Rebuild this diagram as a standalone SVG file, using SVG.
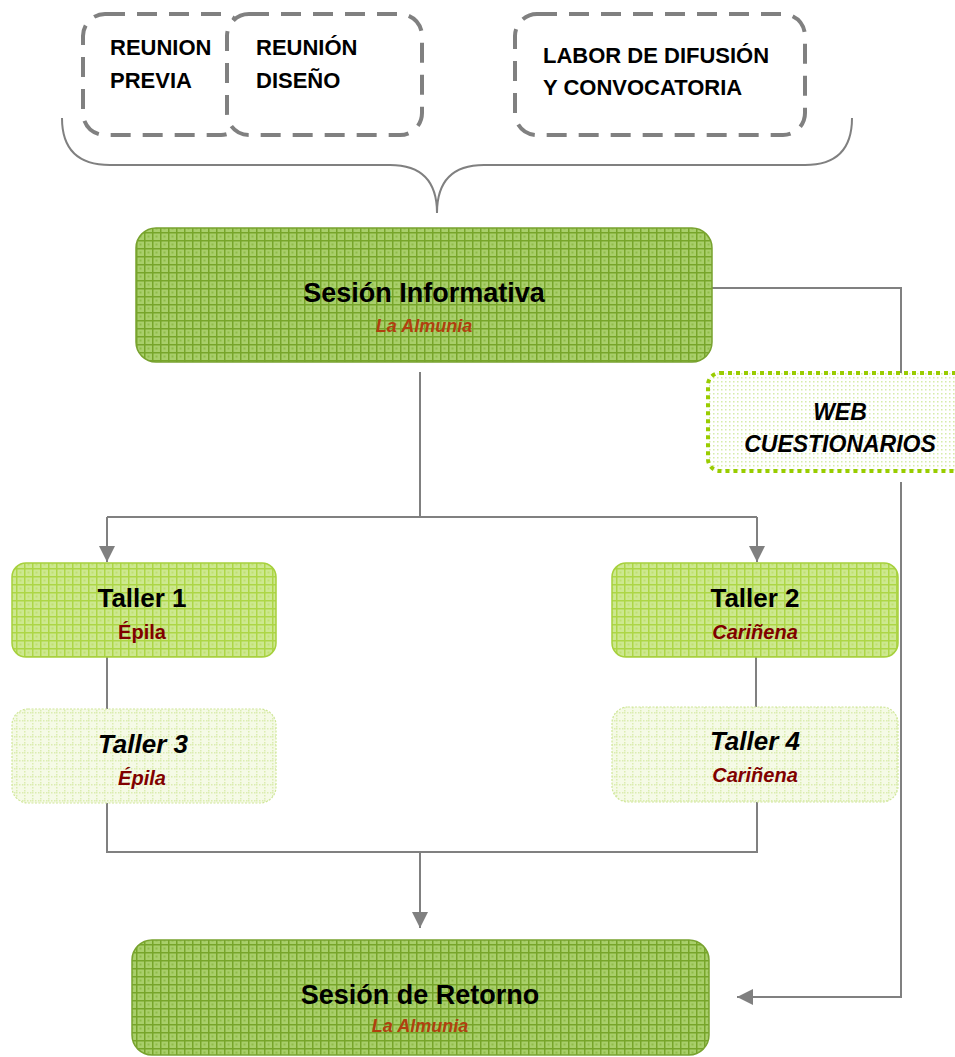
<svg xmlns="http://www.w3.org/2000/svg" width="955" height="1057" viewBox="0 0 955 1057">
<style>
text{font-family:"Liberation Sans",Arial,sans-serif;font-weight:bold}
.pre{font-size:22px;fill:#000}
.ttl{font-size:27px;fill:#000;text-anchor:middle}
.tal{font-size:26px;fill:#000;text-anchor:middle}
.it{font-style:italic}
.alm{font-size:18px;fill:#b0400f;text-anchor:middle;font-style:italic}
.loc{font-size:20px;fill:#800000;text-anchor:middle}
.web{font-size:23px;fill:#000;text-anchor:middle;font-style:italic}
.dash{fill:#fff;stroke:#808080;stroke-width:4;stroke-dasharray:20 12}
.con{fill:none;stroke:#808080;stroke-width:2}
</style>
<defs>
<pattern id="pDark" width="8" height="8" patternUnits="userSpaceOnUse">
<rect width="8" height="8" fill="#a9cf6b"/>
<path d="M0,0.75H8M0.75,0V8" stroke="#77a52a" stroke-width="1.5"/>
<rect x="3.5" y="3.5" width="2" height="2" fill="#8fbd48"/>
</pattern>
<pattern id="pMid" width="8" height="8" patternUnits="userSpaceOnUse">
<rect width="8" height="8" fill="#cde890"/>
<path d="M0,0.75H8M0.75,0V8" stroke="#add646" stroke-width="1.5"/>
<rect x="3.5" y="3.5" width="2" height="2" fill="#bfe070"/>
</pattern>
<pattern id="pLight" width="8" height="8" patternUnits="userSpaceOnUse">
<rect width="8" height="8" fill="#f5fae6"/>
<path d="M0,0.75H8M0.75,0V8" stroke="#dbedb0" stroke-width="1.5" stroke-dasharray="1.5 1.5"/>
</pattern>
<pattern id="pDots" width="4" height="4" patternUnits="userSpaceOnUse">
<rect width="4" height="4" fill="#ffffff"/>
<rect x="1" y="1" width="1.5" height="1.5" fill="#d6ecaa"/>
</pattern>
<marker id="arr" markerUnits="userSpaceOnUse" markerWidth="16" markerHeight="16" refX="16" refY="8" orient="auto">
<path d="M0,0L16,8L0,16z" fill="#808080"/>
</marker>
</defs>

<g id="connectors">
<path class="con" d="M62,118 Q62,165 110,165 L390,165 Q437,165 437,213 Q437,165 484,165 L805,165 Q852,165 852,118"/>
<path class="con" d="M712,288 H901 V373"/>
<path class="con" d="M420,372 V517"/>
<path class="con" d="M107,517 H757"/>
<path class="con" d="M107,517 V562" marker-end="url(#arr)"/>
<path class="con" d="M757,517 V562" marker-end="url(#arr)"/>
<path class="con" d="M107,657 V709"/>
<path class="con" d="M756,657 V707"/>
<path class="con" d="M107,803 V852 H757 V802"/>
<path class="con" d="M420,852 V928" marker-end="url(#arr)"/>
<path class="con" d="M901,482 V997 H737" marker-end="url(#arr)"/>
</g>

<g id="reunion-previa">
<rect class="dash" x="83" y="14" width="160" height="121" rx="22"/>
<text class="pre" x="110" y="55">REUNION</text>
<text class="pre" x="110" y="88">PREVIA</text>
</g>
<g id="reunion-diseno">
<rect class="dash" x="227" y="14" width="195" height="121" rx="22"/>
<text class="pre" x="256" y="55">REUNIÓN</text>
<text class="pre" x="256" y="88">DISEÑO</text>
</g>
<g id="labor-difusion">
<rect class="dash" x="515" y="14" width="290" height="121" rx="22"/>
<text class="pre" x="543" y="63">LABOR DE DIFUSIÓN</text>
<text class="pre" x="543" y="95">Y CONVOCATORIA</text>
</g>

<g id="sesion-informativa">
<rect x="136" y="228" width="576" height="134" rx="20" fill="url(#pDark)" stroke="#78a22f" stroke-width="1.5"/>
<text class="ttl" x="424" y="302">Sesión Informativa</text>
<text class="alm" x="424" y="332">La Almunia</text>
</g>

<g id="web-cuestionarios">
<rect x="708" y="373" width="265" height="98" rx="12" fill="url(#pDots)" stroke="#99cc00" stroke-width="4" stroke-dasharray="4 4"/>
<text class="web" x="840" y="420">WEB</text>
<text class="web" x="840" y="452">CUESTIONARIOS</text>
</g>

<g id="taller1">
<rect x="12" y="563" width="264" height="94" rx="14" fill="url(#pMid)" stroke="#a6d03c" stroke-width="1.5"/>
<text class="tal" x="142" y="607">Taller 1</text>
<text class="loc" x="142" y="639">Épila</text>
</g>
<g id="taller2">
<rect x="612" y="563" width="286" height="94" rx="14" fill="url(#pMid)" stroke="#a6d03c" stroke-width="1.5"/>
<text class="tal" x="755" y="607">Taller 2</text>
<text class="loc it" x="755" y="639">Cariñena</text>
</g>
<g id="taller3">
<rect x="12" y="709" width="264" height="94" rx="16" fill="url(#pLight)" stroke="#cfe698" stroke-width="1.2" stroke-dasharray="2 1.5"/>
<text class="tal it" x="143" y="753">Taller 3</text>
<text class="loc it" x="142" y="785">Épila</text>
</g>
<g id="taller4">
<rect x="612" y="707" width="286" height="95" rx="16" fill="url(#pLight)" stroke="#cfe698" stroke-width="1.2" stroke-dasharray="2 1.5"/>
<text class="tal it" x="755" y="750">Taller 4</text>
<text class="loc it" x="755" y="782">Cariñena</text>
</g>

<g id="sesion-retorno">
<rect x="132" y="940" width="577" height="115" rx="20" fill="url(#pDark)" stroke="#78a22f" stroke-width="1.5"/>
<text class="ttl" x="420" y="1004">Sesión de Retorno</text>
<text class="alm" x="420" y="1032">La Almunia</text>
</g>
</svg>
